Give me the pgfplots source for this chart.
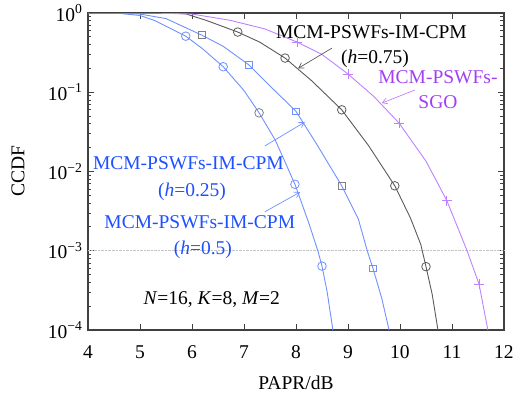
\documentclass[border=0pt]{standalone}
\usepackage{fontspec}
\setmainfont{Liberation Serif}
\usepackage{pgfplots}
\pgfplotsset{compat=1.18}
\usetikzlibrary{arrows.meta}
\definecolor{lblue}{RGB}{112,144,255}
\definecolor{tblue}{RGB}{30,80,255}
\definecolor{lpurp}{RGB}{190,130,255}
\definecolor{tpurp}{RGB}{160,64,240}
\definecolor{lgray}{RGB}{90,90,90}
\begin{document}
\begin{tikzpicture}
\begin{axis}[
  scale only axis, width=416bp, height=317bp,
  xmin=4, xmax=12, ymin=1e-4, ymax=1,
  ymode=log,
  xtick={4,5,6,7,8,9,10,11,12},
  ytick={1e-4,1e-3,1e-2,1e-1,1},
  yticklabels={10\textsuperscript{−4},10\textsuperscript{−3},10\textsuperscript{−2},10\textsuperscript{−1},10\textsuperscript{0}},
  minor ytick={2e-4,3e-4,4e-4,5e-4,6e-4,7e-4,8e-4,9e-4,2e-3,3e-3,4e-3,5e-3,6e-3,7e-3,8e-3,9e-3,2e-2,3e-2,4e-2,5e-2,6e-2,7e-2,8e-2,9e-2,2e-1,3e-1,4e-1,5e-1,6e-1,7e-1,8e-1,9e-1},
  tick align=inside,
  major tick length=6bp, minor tick length=3.5bp,
  axis line style={black!75, line width=1.2bp},
  every tick/.style={black!75, line width=0.8bp},
  font=\fontsize{19.5bp}{23bp}\selectfont,
  /pgf/number format/assume math mode=true,
  xticklabel style={yshift=-12bp},
  yticklabel style={xshift=-2bp},
  xlabel={PAPR/dB}, ylabel={CCDF},
  xlabel style={at={(axis description cs:0.5,-0.167)}, anchor=center},
  ylabel style={at={(axis description cs:-0.168,0.5)}, anchor=center},
  extra y ticks={1e-3}, extra y tick labels={},
  extra y tick style={grid=major, major grid style={gray!45, densely dotted, line width=0.8bp}, major tick length=0pt},
]
% h=0.5
\addplot[lblue, line width=0.9bp] coordinates {(4,1)(4.6,0.99)(5.0,0.93)(5.29,0.8)(5.88,0.51)(6.2,0.355)(6.6,0.21)(7.0,0.105)(7.29,0.055)(7.6,0.025)(7.98,0.0069)(8.25,0.0022)(8.42,0.001)(8.5,6.4e-4)(8.6,3e-4)(8.71,1e-4)};
\addplot[only marks, mark=o, mark size=4.3bp, lblue, mark options={line width=0.8bp}] coordinates {(5.88,0.51)(6.60,0.21)(7.98,0.0069)(8.5,6.4e-4)};
\addplot[only marks, mark=o, mark size=4.3bp, gray, mark options={line width=0.8bp}] coordinates {(7.29,0.055)};
% h=0.25
\addplot[lblue, line width=0.9bp] coordinates {(4,1)(4.5,0.995)(5.0,0.97)(5.5,0.85)(6.19,0.525)(6.6,0.38)(7.10,0.22)(7.5,0.12)(8.0,0.0575)(8.4,0.022)(8.88,0.0066)(9.2,0.0025)(9.37,0.001)(9.48,6.0e-4)(9.65,2.5e-4)(9.79,1e-4)};
\addplot[only marks, mark=square, mark size=3.3bp, lblue, mark options={line width=0.8bp}] coordinates {(7.10,0.22)(8.0,0.0575)(9.48,6.0e-4)};
\addplot[only marks, mark=square, mark size=3.3bp, gray, mark options={line width=0.8bp}] coordinates {(6.19,0.525)(8.88,0.0066)};
% h=0.75
\addplot[lgray, line width=0.9bp] coordinates {(4,1)(5,1)(5.5,0.995)(5.87,0.98)(6.29,0.8)(6.88,0.575)(7.3,0.43)(7.79,0.27)(8.3,0.14)(8.88,0.060)(9.4,0.021)(9.90,0.0066)(10.2,0.0026)(10.4,0.0012)(10.5,6.3e-4)(10.62,2.8e-4)(10.73,1e-4)};
\addplot[only marks, mark=o, mark size=4.3bp, lgray, mark options={line width=0.8bp}] coordinates {(6.88,0.575)(7.79,0.27)(8.88,0.060)(9.90,0.0066)(10.5,6.3e-4)};
% SGO
\addplot[lpurp, line width=0.9bp] coordinates {(4,1)(5.0,0.998)(5.5,0.99)(6.0,0.97)(6.73,0.81)(7.4,0.63)(8.02,0.43)(8.5,0.30)(9.0,0.17)(9.5,0.088)(9.98,0.041)(10.5,0.0135)(10.9,0.0043)(11.29,0.001)(11.52,3.8e-4)(11.69,1e-4)};
\addplot[only marks, mark=+, mark size=5bp, lpurp, mark options={line width=0.8bp}] coordinates {(8.02,0.43)(9.0,0.17)(9.98,0.041)(10.9,0.0043)(11.52,3.8e-4)};
% annotations
\node[anchor=base] at (axis cs:9.45,0.477) {MCM-PSWFs-IM-CPM};
\node[anchor=base] at (axis cs:9.52,0.231) {(\textit{h}=0.75)};
\node[anchor=base, text=tpurp] at (axis cs:10.73,0.129) {MCM-PSWFs-};
\node[anchor=base, text=tpurp] at (axis cs:10.73,0.0624) {SGO};
\node[anchor=base, text=tblue] at (axis cs:5.93,0.0106) {MCM-PSWFs-IM-CPM};
\node[anchor=base, text=tblue] at (axis cs:6.0,0.00484) {(\textit{h}=0.25)};
\node[anchor=base, text=tblue] at (axis cs:6.15,0.00191) {MCM-PSWFs-IM-CPM};
\node[anchor=base, text=tblue] at (axis cs:6.21,8.97e-4) {(\textit{h}=0.5)};
\node[anchor=base] at (axis cs:6.38,2.1e-4) {\textit{N}=16, \textit{K}=8, \textit{M}=2};
\draw[lgray, line width=0.7bp, -{Straight Barb[length=5bp,width=6bp]}] (axis cs:8.69,0.36) -- (axis cs:8.04,0.20);
\draw[lpurp, line width=0.7bp, -{Straight Barb[length=5bp,width=6bp]}] (axis cs:10.29,0.107) -- (axis cs:9.65,0.073);
\draw[lblue, line width=0.7bp, -{Straight Barb[length=5bp,width=6bp]}] (axis cs:7.40,0.021) -- (axis cs:8.17,0.042);
\draw[lblue, line width=0.7bp, -{Straight Barb[length=5bp,width=6bp]}] (axis cs:7.40,0.0031) -- (axis cs:8.08,0.0055);
\end{axis}
\pgfresetboundingbox
\path[use as bounding box] (current axis.south west) ++(-88bp,-64bp) rectangle ++(515bp,394bp);
\end{tikzpicture}
\end{document}
